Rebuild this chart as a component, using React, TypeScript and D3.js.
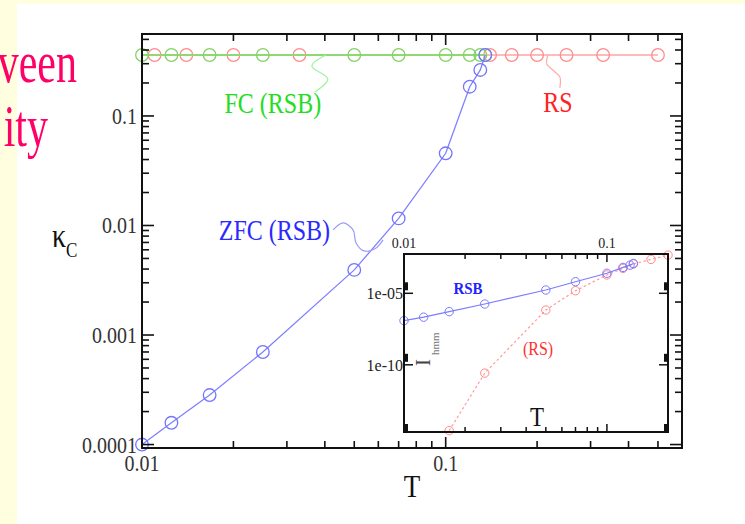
import React from 'react';
import * as d3 from 'd3';

// ---------- data (main panel) ----------
const T_RSB = [0.01, 0.0125, 0.0167, 0.025, 0.05, 0.07, 0.1, 0.12, 0.13, 0.135];
const kappaZFC = [1.0e-4, 1.58e-4, 2.83e-4, 7.0e-4, 3.93e-3, 0.0116, 0.0456, 0.185, 0.263, 0.36];
const kappaFC = [0.36, 0.36, 0.36, 0.36, 0.36, 0.36, 0.36, 0.36, 0.36, 0.36];
const T_RS = [0.011, 0.014, 0.02, 0.033, 0.14, 0.165, 0.2, 0.25, 0.33, 0.5];
const kappaRS = [0.36, 0.36, 0.36, 0.36, 0.36, 0.36, 0.36, 0.36, 0.36, 0.36];
const xTickLabels = ['0.01', '0.1'];
const yTickLabels = ['0.0001', '0.001', '0.01', '0.1'];

// ---------- data (inset) ----------
const insetT_RSB = [0.01, 0.0125, 0.0167, 0.025, 0.05, 0.07, 0.1, 0.12, 0.13, 0.135];
const insetRSB = [1.23e-7, 2.14e-7, 5.25e-7, 1.78e-6, 1.7e-5, 6.46e-5, 2.51e-4, 6.46e-4, 9.33e-4, 1.23e-3];
const insetT_RS = [0.0167, 0.025, 0.05, 0.07, 0.1, 0.12, 0.135, 0.165, 0.2];
const insetRS = [2.5e-15, 2.63e-11, 6.76e-7, 1.51e-5, 1.91e-4, 5.5e-4, 1.12e-3, 2.34e-3, 4.68e-3];
const insetXTickLabels = ['0.01', '0.1'];
const insetYTickLabels = ['1e-05', '1e-10'];

const W = 745, H = 524;
const M = { left: 142, right: 682, top: 34, bottom: 448 };
const I = { left: 404, right: 668, top: 254, bottom: 432 };

const SERIF = 'Liberation Serif, Times New Roman, Times, serif';

const x = d3.scaleLog().domain([0.01, 0.6]).range([M.left, M.right]);
const y = d3.scaleLog().domain([9.3e-5, 0.56]).range([M.bottom, M.top]);
const xi = d3.scaleLog().domain([0.01, 0.2]).range([I.left, I.right]);
const yi = d3.scaleLog().domain([2e-15, 5.6e-3]).range([I.bottom, I.top]);

function logTicks(lo: number, hi: number) {
  const out: { v: number; major: boolean }[] = [];
  for (let e = Math.floor(Math.log10(lo)); e <= Math.ceil(Math.log10(hi)); e++) {
    for (let k = 1; k <= 9; k++) {
      const v = k * Math.pow(10, e);
      if (v >= lo * 0.9999 && v <= hi * 1.0001) out.push({ v, major: k === 1 });
    }
  }
  return out;
}

const Txt = (p: any) => (
  <text
    transform={`translate(${p.x},${p.y}) scale(1,${p.sy ?? 1.2})`}
    textAnchor={p.anchor ?? 'start'}
    fontSize={p.size}
    fill={p.fill ?? '#222'}
    style={{ fontFamily: p.family ?? SERIF }}
    fontWeight={p.weight ?? 'normal'}
  >
    {p.children}
  </text>
);

const curve = d3.line<[number, number]>().x((d) => d[0]).y((d) => d[1]).curve(d3.curveCatmullRom);

// annotation squiggles: anchor in data space, shape as offsets
const annotations = [
  { text: 'FC (RSB)', T: 0.0403, k: 0.36, color: '#22dd22', line: '#9ff09f',
    pts: [[0, 0], [-14, 11], [2, 24], [-11, 37]], lx: -53, ly: 58, anchor: 'middle' },
  { text: 'RS', T: 0.217, k: 0.36, color: '#ff2222', line: '#ffaaaa',
    pts: [[0, 0], [-1, 9], [6, 16], [12, 22], [12, 33]], lx: 10, ly: 57, anchor: 'middle' },
  { text: 'ZFC (RSB)', T: 0.0622, k: 0.00738, color: '#2a2aff', line: '#9a9aff',
    pts: [[0, 0], [-7, 8], [-19, 11], [-27, 3], [-30, -10], [-40, -17], [-50, -10]], lx: -53, ly: 0, anchor: 'end' },
];

export default function App() {
  const xt = logTicks(0.01, 0.6);
  const yt = logTicks(9.3e-5, 0.56);
  const xit = logTicks(0.01, 0.2);

  const lineMain = (xs: number[], ys: number[]) =>
    d3.line<number>().x((_, i) => x(xs[i])).y((_, i) => y(ys[i]))(xs) || '';
  const lineInset = (xs: number[], ys: number[]) =>
    d3.line<number>().x((_, i) => xi(xs[i])).y((_, i) => yi(ys[i]))(xs) || '';

  return (
    <svg width={W} height={H} style={{ position: 'absolute', left: 0, top: 0, display: 'block' }}>
      {/* slide background */}
      <rect x={0} y={0} width={W} height={H} fill="#ffffe0" />
      <rect x={17} y={4} width={W - 17} height={H - 4} fill="#ffffff" />
      <Txt x={77} y={82} size={42} sy={1.4} anchor="end" fill="#ff0066">veen</Txt>
      <Txt x={48} y={146} size={42} sy={1.4} anchor="end" fill="#ff0066">ity</Txt>

      {/* RS series */}
      <path d={lineMain(T_RS, kappaRS)} fill="none" stroke="#ffa3a3" strokeWidth={1.6} />
      {T_RS.map((t, i) => (
        <circle key={'r' + i} cx={x(t)} cy={y(kappaRS[i])} r={6.3} fill="none" stroke="#ff8c8c" strokeWidth={1.3} />
      ))}
      {/* FC series */}
      <path d={lineMain(T_RSB, kappaFC)} fill="none" stroke="#8fd873" strokeWidth={1.8} />
      {T_RSB.map((t, i) => (
        <circle key={'g' + i} cx={x(t)} cy={y(kappaFC[i])} r={6.3} fill="none" stroke="#84d267" strokeWidth={1.3} />
      ))}
      {/* ZFC series */}
      <path d={lineMain(T_RSB, kappaZFC)} fill="none" stroke="#8080ff" strokeWidth={1.3} />
      {T_RSB.map((t, i) => (
        <circle key={'b' + i} cx={x(t)} cy={y(kappaZFC[i])} r={6.3} fill="none" stroke="#7474ff" strokeWidth={1.3} />
      ))}

      {/* annotations */}
      {annotations.map((a, i) => {
        const ax = x(a.T), ay = y(a.k);
        const pts = a.pts.map((p) => [ax + p[0], ay + p[1]] as [number, number]);
        return (
          <g key={'a' + i}>
            <path d={curve(pts) || ''} fill="none" stroke={a.line} strokeWidth={1.2} />
            <Txt x={ax + a.lx} y={ay + a.ly} size={24} anchor={a.anchor} fill={a.color}>{a.text}</Txt>
          </g>
        );
      })}

      {/* main frame and ticks */}
      <rect x={M.left} y={M.top} width={M.right - M.left} height={M.bottom - M.top} fill="none" stroke="#111" strokeWidth={2} />
      {xt.map((t, i) => {
        const px = x(t.v), L = t.major ? 11 : 7;
        return (
          <g key={'xt' + i} stroke="#111" strokeWidth={1.6}>
            <line x1={px} x2={px} y1={M.bottom} y2={M.bottom - L} />
            <line x1={px} x2={px} y1={M.top} y2={M.top + L} />
          </g>
        );
      })}
      {yt.map((t, i) => {
        const py = y(t.v), L = t.major ? 12 : 7;
        return (
          <g key={'yt' + i} stroke="#111" strokeWidth={1.6}>
            <line x1={M.left} x2={M.left + L} y1={py} y2={py} />
            <line x1={M.right} x2={M.right - L} y1={py} y2={py} />
          </g>
        );
      })}
      {xTickLabels.map((s) => (
        <Txt key={'xl' + s} x={x(+s)} y={471} size={20} sy={1.15} anchor="middle" fill="#333">{s}</Txt>
      ))}
      {yTickLabels.map((s) => (
        <Txt key={'yl' + s} x={137} y={y(+s) + 8} size={20} sy={1.15} anchor="end" fill="#333">{s}</Txt>
      ))}
      <Txt x={(M.left + M.right) / 2} y={497} size={27} sy={1.2} anchor="middle" fill="#111">T</Txt>
      <text transform="translate(52,247) scale(1,1.2)" style={{ fontFamily: SERIF }} fontSize={28} fill="#111">
        κ<tspan fontSize={17} dy={8}>C</tspan>
      </text>

      {/* ---------- inset ---------- */}
      <rect x={I.left} y={I.top} width={I.right - I.left} height={I.bottom - I.top} fill="#ffffff" />
      <path d={lineInset(insetT_RS, insetRS)} fill="none" stroke="#ff9a9a" strokeWidth={1.2} strokeDasharray="2.5,2.5" />
      {insetT_RS.map((t, i) => (
        <circle key={'ir' + i} cx={xi(t)} cy={yi(insetRS[i])} r={4.2} fill="none" stroke="#ff8a8a" strokeWidth={1} />
      ))}
      <path d={lineInset(insetT_RSB, insetRSB)} fill="none" stroke="#7c7cff" strokeWidth={1.2} />
      {insetT_RSB.map((t, i) => (
        <circle key={'ib' + i} cx={xi(t)} cy={yi(insetRSB[i])} r={4.2} fill="none" stroke="#7a7aff" strokeWidth={1} />
      ))}
      <Txt x={468} y={294} size={15} sy={1.1} anchor="middle" fill="#2222ff" weight="bold">RSB</Txt>
      <Txt x={538} y={355} size={16} sy={1.15} anchor="middle" fill="#ff3030">(RS)</Txt>
      <Txt x={537} y={426} size={23} sy={1.15} anchor="middle" fill="#111">T</Txt>
      <text transform="translate(430,366) rotate(-90)" style={{ fontFamily: SERIF }} fill="#444">
        <tspan fontSize={21}>I</tspan>
        <tspan fontSize={11} dy={9} dx={4} fill="#777">hmm</tspan>
      </text>

      <rect x={I.left} y={I.top} width={I.right - I.left} height={I.bottom - I.top} fill="none" stroke="#111" strokeWidth={2} />
      {xit.map((t, i) => {
        const px = xi(t.v), L = t.major ? 8 : 5;
        return (
          <g key={'ixt' + i} stroke="#111" strokeWidth={1.5}>
            <line x1={px} x2={px} y1={I.top} y2={I.top + L} />
            <line x1={px} x2={px} y1={I.bottom} y2={I.bottom - L} />
          </g>
        );
      })}
      {insetYTickLabels.map((s) => {
        const py = yi(+s);
        return (
          <g key={'iyt' + s}>
            <line x1={I.left} x2={I.left + 9} y1={py} y2={py} stroke="#111" strokeWidth={1.5} />
            <line x1={I.right} x2={I.right - 9} y1={py} y2={py} stroke="#111" strokeWidth={1.5} />
            <rect x={I.left} y={py - 11} width={4} height={8} fill="#111" />
            <rect x={I.right - 4} y={py - 11} width={4} height={8} fill="#111" />
            <Txt x={403} y={py + 6} size={16} sy={1.1} anchor="end" fill="#222">{s}</Txt>
          </g>
        );
      })}
      <rect x={I.left} y={I.bottom - 8} width={4} height={8} fill="#111" />
      <rect x={I.right - 4} y={I.bottom - 8} width={4} height={8} fill="#111" />
      {insetXTickLabels.map((s) => (
        <Txt key={'ixl' + s} x={xi(+s)} y={248} size={14} sy={1.1} anchor="middle" fill="#222">{s}</Txt>
      ))}
    </svg>
  );
}
